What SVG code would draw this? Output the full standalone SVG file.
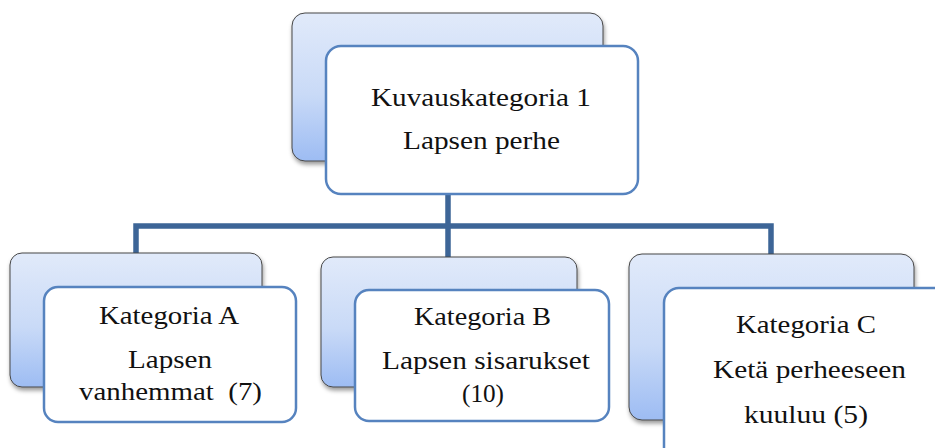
<svg xmlns="http://www.w3.org/2000/svg" width="935" height="448" viewBox="0 0 935 448">
  <defs>
    <linearGradient id="backFill" x1="0" y1="0" x2="0" y2="1">
      <stop offset="0" stop-color="#e1eafa"/>
      <stop offset="0.55" stop-color="#c9daf7"/>
      <stop offset="1" stop-color="#9dbcf3"/>
    </linearGradient>
    <filter id="shadow" x="-10%" y="-10%" width="125%" height="130%">
      <feDropShadow dx="1" dy="3" stdDeviation="2" flood-color="#000" flood-opacity="0.4"/>
    </filter>
  </defs>
  <style>
    .back { fill: url(#backFill); stroke: #474747; stroke-width: 1; filter: url(#shadow); }
    .front { fill: #ffffff; stroke: #5683bf; stroke-width: 2.5; }
    .conn { fill: none; stroke: #3d6597; stroke-width: 5.5; stroke-linejoin: miter; stroke-linecap: square; }
    text { font-family: "Liberation Serif", "Times New Roman", serif; font-size: 26px; fill: #111; text-anchor: middle; }
  </style>

  <rect width="935" height="448" fill="#ffffff"/>

  <!-- connectors: trunk from the top node, bar, and three drops -->
  <g id="connectors">
    <path class="conn" d="M448 194 V226 M136 256 V226 H771 V256 M448 226 V257"/>
  </g>

  <!-- top node -->
  <g id="node-top">
    <rect class="back" x="292" y="13" width="311" height="148" rx="13"/>
    <rect class="front" x="326" y="46" width="312" height="148" rx="15"/>
    <text x="481" y="106" textLength="220" lengthAdjust="spacingAndGlyphs">Kuvauskategoria 1</text>
    <text x="481.5" y="149" textLength="157" lengthAdjust="spacingAndGlyphs">Lapsen perhe</text>
  </g>

  <!-- category A -->
  <g id="node-a">
    <rect class="back" x="10" y="253" width="252" height="134" rx="12"/>
    <rect class="front" x="44" y="287" width="252" height="135" rx="14"/>
    <text x="169" y="324" textLength="140" lengthAdjust="spacingAndGlyphs">Kategoria A</text>
    <text x="170" y="368" textLength="84" lengthAdjust="spacingAndGlyphs">Lapsen</text>
    <text x="170.5" y="400" textLength="183" lengthAdjust="spacingAndGlyphs" xml:space="preserve">vanhemmat  (7)</text>
  </g>

  <!-- category B -->
  <g id="node-b">
    <rect class="back" x="321" y="257" width="256" height="130" rx="12"/>
    <rect class="front" x="355" y="290" width="254" height="131" rx="14"/>
    <text x="482.5" y="325" textLength="137" lengthAdjust="spacingAndGlyphs">Kategoria B</text>
    <text x="486" y="369" textLength="208" lengthAdjust="spacingAndGlyphs">Lapsen sisarukset</text>
    <text x="483" y="402" textLength="42" lengthAdjust="spacingAndGlyphs">(10)</text>
  </g>

  <!-- category C -->
  <g id="node-c">
    <rect class="back" x="629" y="254" width="285" height="166" rx="13"/>
    <rect class="front" x="664" y="288" width="292" height="175" rx="15"/>
    <text x="806" y="333" textLength="140" lengthAdjust="spacingAndGlyphs">Kategoria C</text>
    <text x="809.5" y="378" textLength="193" lengthAdjust="spacingAndGlyphs">Ketä perheeseen</text>
    <text x="806" y="423" textLength="124" lengthAdjust="spacingAndGlyphs">kuuluu (5)</text>
  </g>
</svg>
